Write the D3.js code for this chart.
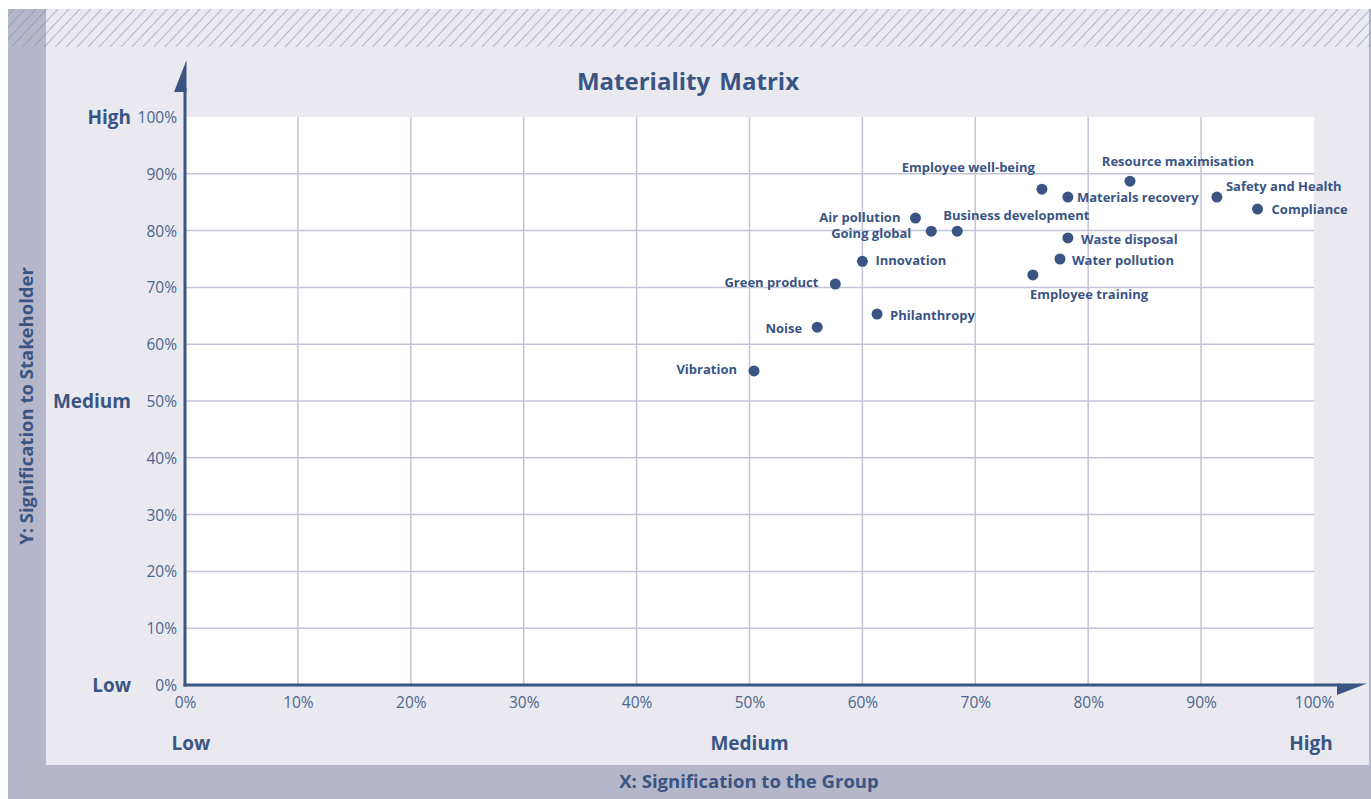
<!DOCTYPE html>
<html>
<head>
<meta charset="utf-8">
<script src="https://cdn.jsdelivr.net/npm/d3@7"></script>
<style>
  body { margin: 0; background: #fff; }
  svg text { font-family: "Open Sans", "Noto Sans", sans-serif; }
</style>
</head>
<body>
<svg id="chart" width="1371" height="799"></svg>
<script>
// Topics and their scores (percent)
const topics = [
  'Employee well-being', 'Materials recovery', 'Resource maximisation', 'Safety and Health',
  'Compliance', 'Air pollution', 'Going global', 'Business development', 'Waste disposal',
  'Water pollution', 'Employee training', 'Innovation', 'Green product', 'Philanthropy',
  'Noise', 'Vibration'
];
const groupScore = [75.9, 78.2, 83.7, 91.4, 95.0, 64.7, 66.1, 68.4, 78.2, 77.5, 75.1, 60.0, 57.6, 61.3, 56.0, 50.4];
const stakeholderScore = [87.3, 85.9, 88.7, 85.9, 83.8, 82.2, 79.9, 79.9, 78.7, 75.0, 72.2, 74.6, 70.6, 65.3, 63.0, 55.3];

const tickValues = [0, 10, 20, 30, 40, 50, 60, 70, 80, 90, 100];
const levelLabels = ['Low', 'Medium', 'High'];
const levelValues = [0, 50, 100];

// label placement next to each dot: [dx, dy, anchor]
const labelPlace = {
  'Employee well-being': [-7, -22, 'end'],
  'Materials recovery': [9, 0, 'start'],
  'Resource maximisation': [48, -20, 'middle'],
  'Safety and Health': [9, -11, 'start'],
  'Compliance': [14, 0, 'start'],
  'Air pollution': [-15, -1, 'end'],
  'Going global': [-20, 2, 'end'],
  'Business development': [-14, -16, 'start'],
  'Waste disposal': [13, 1, 'start'],
  'Water pollution': [12, 1, 'start'],
  'Employee training': [-3, 20, 'start'],
  'Innovation': [13, -1, 'start'],
  'Green product': [-17, -2, 'end'],
  'Philanthropy': [13, 1, 'start'],
  'Noise': [-15, 1, 'end'],
  'Vibration': [-17, -1, 'end']
};

const data = topics.map((name, i) => ({ name, gx: groupScore[i], sy: stakeholderScore[i] }));

const navy = '#3a5583';
const tickColor = '#4d6690';
const gridColor = '#c3c4d8';
const panelColor = '#e9e9ef';
const barColor = '#b5b6c9';

const svg = d3.select('#chart');

const plot = { left: 185, right: 1314, top: 117, bottom: 685 };

const x = d3.scaleLinear().domain([0, 100]).range([plot.left, plot.right]);
const y = d3.scaleLinear().domain([0, 100]).range([plot.bottom, plot.top]);

// Backgrounds
const defs = svg.append('defs');
const hatch = defs.append('pattern')
  .attr('id', 'hatch')
  .attr('patternUnits', 'userSpaceOnUse')
  .attr('width', 8)
  .attr('height', 8)
  .attr('patternTransform', 'rotate(43)');
hatch.append('line')
  .attr('x1', 0).attr('y1', 0).attr('x2', 0).attr('y2', 8)
  .attr('stroke', '#7f8bb0')
  .attr('stroke-width', 1.1);

svg.append('rect').attr('x', 8).attr('y', 9).attr('width', 1363).attr('height', 790).attr('fill', barColor);
svg.append('rect').attr('x', 46).attr('y', 9).attr('width', 1323).attr('height', 756).attr('fill', panelColor);
svg.append('rect').attr('x', 8).attr('y', 9).attr('width', 1363).attr('height', 38).attr('fill', 'url(#hatch)');

svg.append('rect')
  .attr('x', plot.left).attr('y', plot.top)
  .attr('width', plot.right - plot.left).attr('height', plot.bottom - plot.top)
  .attr('fill', '#fff');

// Grid
const grid = svg.append('g');
grid.selectAll('line.v')
  .data(tickValues.slice(1, -1))
  .join('line')
  .attr('x1', d => x(d)).attr('x2', d => x(d))
  .attr('y1', plot.top).attr('y2', plot.bottom)
  .attr('stroke', gridColor).attr('stroke-width', 1.5);
grid.selectAll('line.h')
  .data(tickValues.slice(1, -1))
  .join('line')
  .attr('x1', plot.left).attr('x2', plot.right)
  .attr('y1', d => y(d)).attr('y2', d => y(d))
  .attr('stroke', gridColor).attr('stroke-width', 1.5);

// Axes (ticks via d3 axes)
const xAxis = svg.append('g')
  .attr('transform', `translate(0, ${plot.bottom})`)
  .call(d3.axisBottom(x).tickValues(tickValues).tickSize(0).tickPadding(12).tickFormat(d => d + '%'));
const yAxis = svg.append('g')
  .attr('transform', `translate(${plot.left}, 0)`)
  .call(d3.axisLeft(y).tickValues(tickValues).tickSize(0).tickPadding(8).tickFormat(d => d + '%'));

[xAxis, yAxis].forEach(a => {
  a.select('.domain').remove();
  a.selectAll('text')
    .attr('fill', tickColor)
    .style('font-size', '15.5px')
    .style('font-family', '"Open Sans", sans-serif');
});
yAxis.selectAll('text').attr('dy', '0.35em');

// Axis lines with half-arrowheads
svg.append('line')
  .attr('x1', plot.left).attr('x2', plot.left)
  .attr('y1', 88).attr('y2', plot.bottom + 1.5)
  .attr('stroke', navy).attr('stroke-width', 3);
svg.append('path')
  .attr('d', `M${plot.left + 1.5},60 L${plot.left + 1.5},92 L${plot.left - 11},92 Z`)
  .attr('fill', navy);
svg.append('line')
  .attr('x1', plot.left - 1.5).attr('x2', 1340)
  .attr('y1', plot.bottom).attr('y2', plot.bottom)
  .attr('stroke', navy).attr('stroke-width', 3);
svg.append('path')
  .attr('d', `M1337,${plot.bottom - 1.5} L1367,${plot.bottom - 1.5} L1337,${plot.bottom + 10} Z`)
  .attr('fill', navy);

// Level labels
svg.selectAll('text.ylevel')
  .data(levelLabels)
  .join('text')
  .attr('class', 'ylevel')
  .attr('x', 131)
  .attr('y', (d, i) => y(levelValues[i]))
  .attr('dy', '0.35em')
  .attr('text-anchor', 'end')
  .attr('fill', navy)
  .style('font-size', '19px')
  .style('font-weight', 700)
  .text(d => d);

svg.selectAll('text.xlevel')
  .data(levelLabels)
  .join('text')
  .attr('class', 'xlevel')
  .attr('x', (d, i) => x(levelValues[i]) + (i === 0 ? 6 : i === 2 ? -3 : 0))
  .attr('y', 743)
  .attr('dy', '0.35em')
  .attr('text-anchor', 'middle')
  .attr('fill', navy)
  .style('font-size', '19px')
  .style('font-weight', 700)
  .text(d => d);

// Titles
svg.append('text')
  .attr('x', 688).attr('y', 82)
  .attr('dy', '0.35em')
  .attr('text-anchor', 'middle')
  .attr('fill', navy)
  .style('font-size', '24px')
  .style('font-weight', 700)
  .style('word-spacing', '3px')
  .text('Materiality Matrix');

svg.append('text')
  .attr('x', 749).attr('y', 782)
  .attr('dy', '0.35em')
  .attr('text-anchor', 'middle')
  .attr('fill', navy)
  .style('font-size', '18.5px')
  .style('font-weight', 700)
  .text('X: Signification to the Group');

svg.append('text')
  .attr('transform', 'translate(27, 406) rotate(-90)')
  .attr('dy', '0.35em')
  .attr('text-anchor', 'middle')
  .attr('fill', navy)
  .style('font-size', '18.5px')
  .style('font-weight', 700)
  .text('Y: Signification to Stakeholder');

// Points and labels
const pts = svg.append('g');
pts.selectAll('circle')
  .data(data)
  .join('circle')
  .attr('cx', d => x(d.gx))
  .attr('cy', d => y(d.sy))
  .attr('r', 5.5)
  .attr('fill', navy);

pts.selectAll('text')
  .data(data)
  .join('text')
  .attr('x', d => x(d.gx) + labelPlace[d.name][0])
  .attr('y', d => y(d.sy) + labelPlace[d.name][1])
  .attr('dy', '0.35em')
  .attr('text-anchor', d => labelPlace[d.name][2])
  .attr('fill', navy)
  .style('font-size', '13px')
  .style('font-weight', 700)
  .text(d => d.name);
</script>
</body>
</html>
